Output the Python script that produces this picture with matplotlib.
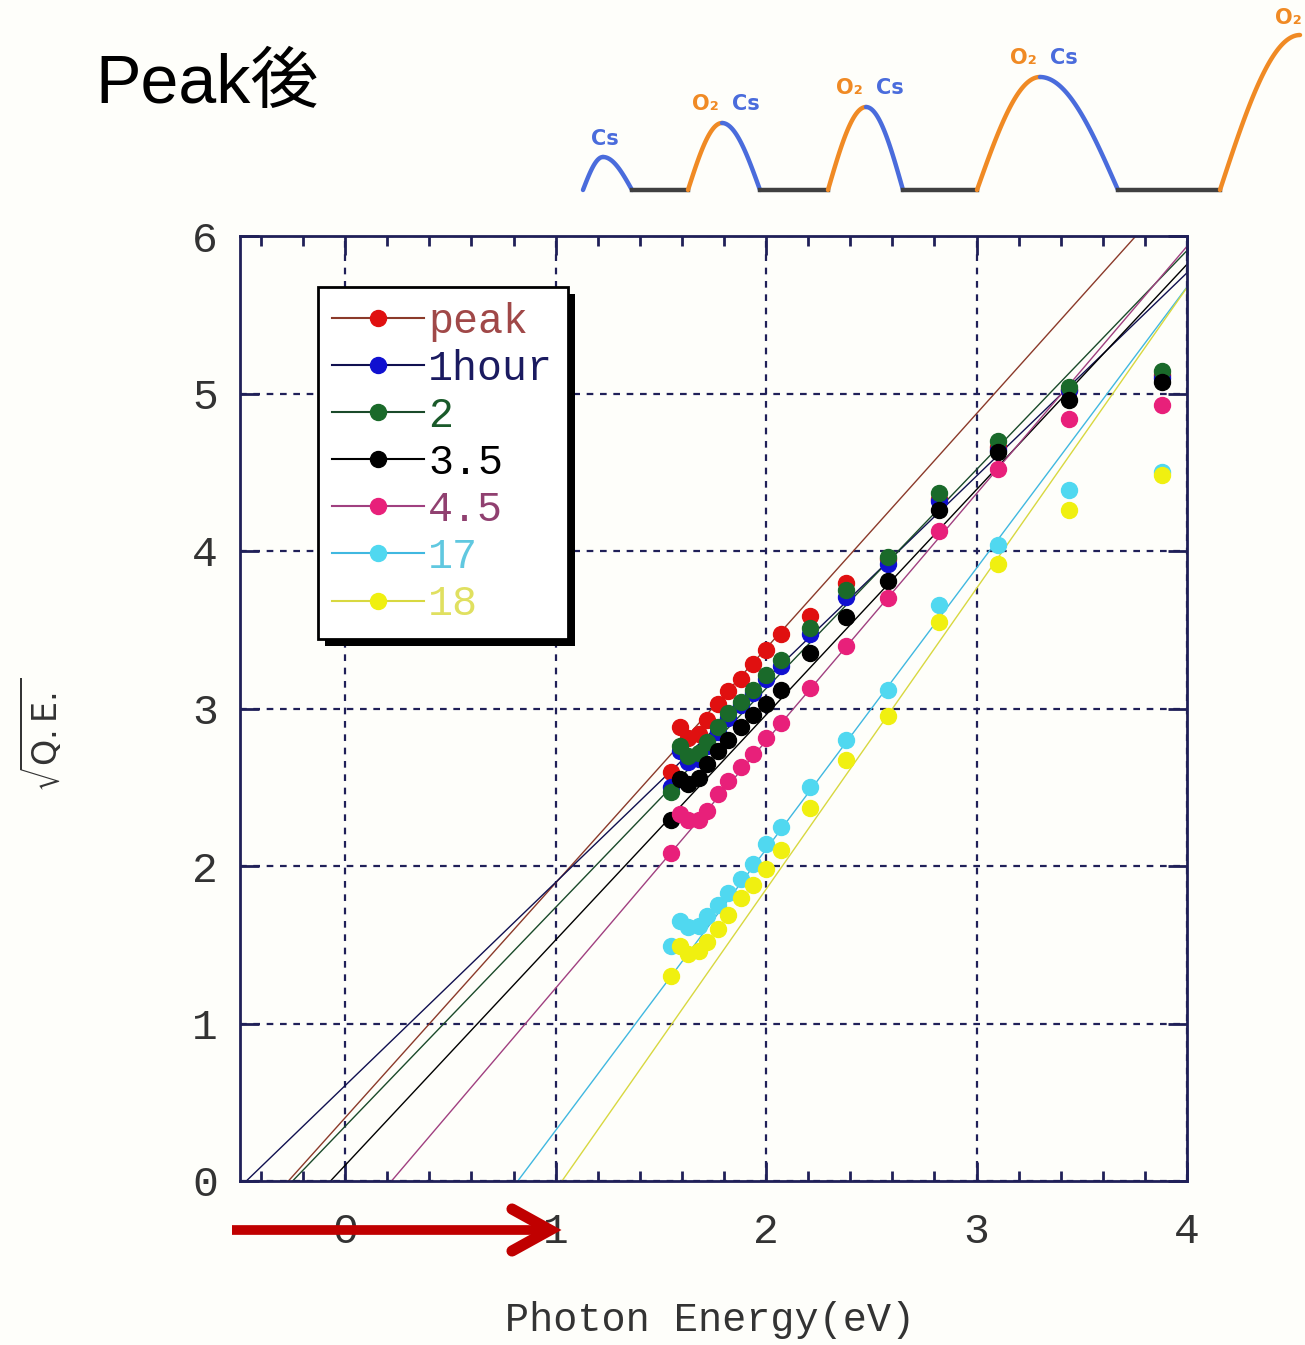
import numpy as np
import matplotlib
matplotlib.use("Agg")
import matplotlib.pyplot as plt
from matplotlib.lines import Line2D
from matplotlib.patches import Rectangle
from matplotlib.transforms import IdentityTransform

# photon energies of the measured points (eV)
energy = [1.55, 1.59, 1.63, 1.68, 1.72, 1.77, 1.82, 1.88, 1.94, 2.00, 2.07,
          2.21, 2.38, 2.58, 2.82, 3.10, 3.44, 3.88]

# sqrt(Q.E.) for each series
qe_peak = [2.60, 2.88, 2.81, 2.84, 2.93, 3.03, 3.11, 3.19, 3.28, 3.37, 3.47,
           3.59, 3.80, 3.95, 4.33, 4.66, 5.02, 5.12]
qe_1h = [2.50, 2.73, 2.66, 2.68, 2.76, 2.85, 2.94, 3.02, 3.10, 3.19, 3.27,
         3.47, 3.71, 3.92, 4.32, 4.64, 5.02, 5.10]
qe_2 = [2.47, 2.76, 2.70, 2.72, 2.79, 2.88, 2.97, 3.04, 3.12, 3.21, 3.31,
        3.51, 3.75, 3.96, 4.37, 4.70, 5.04, 5.14]
qe_35 = [2.29, 2.55, 2.52, 2.56, 2.65, 2.73, 2.80, 2.88, 2.96, 3.03, 3.12,
         3.35, 3.58, 3.81, 4.26, 4.63, 4.96, 5.07]
qe_45 = [2.08, 2.33, 2.29, 2.29, 2.35, 2.46, 2.54, 2.63, 2.71, 2.81, 2.91,
         3.13, 3.40, 3.70, 4.13, 4.52, 4.84, 4.93]
qe_17 = [1.49, 1.65, 1.61, 1.62, 1.68, 1.75, 1.83, 1.92, 2.01, 2.14, 2.25,
         2.50, 2.80, 3.12, 3.66, 4.04, 4.39, 4.50]
qe_18 = [1.30, 1.49, 1.44, 1.46, 1.52, 1.60, 1.69, 1.80, 1.88, 1.98, 2.10,
         2.37, 2.67, 2.95, 3.55, 3.92, 4.26, 4.48]

labels = ["peak", "1hour", "2", "3.5", "4.5", "17", "18"]
series = [qe_peak, qe_1h, qe_2, qe_35, qe_45, qe_17, qe_18]

# linear fits: x-intercept (threshold) and slope
fit_x0 = [-0.27, -0.47, -0.25, -0.07, 0.22, 0.82, 1.03]
fit_slope = [1.49, 1.29, 1.39, 1.43, 1.57, 1.785, 1.91]

marker_colors = ["#e01010", "#1010d0", "#1a6a2a", "#000000", "#e8207a", "#50d8f0", "#f0f010"]
line_colors = ["#8b3a2a", "#101050", "#1a4a2a", "#000000", "#a04080", "#40b8e0", "#d8d840"]
text_colors = ["#a04848", "#1a1a60", "#1a5a2a", "#000000", "#904070", "#60c8e0", "#e0e060"]

# schematic above the chart (pixel units)
bump_start = [583, 688, 828, 977, 1220]
bump_peak_x = [603, 722, 866, 1040, 1300]
bump_peak_y = [157, 123, 107, 77, 35]
bump_end = [632, 760, 903, 1118, None]
rise_is_o2 = [False, True, True, True, True]

navy = "#202058"
orange = "#f08a24"
blue = "#4a6cdc"
bg = "#fefefa"

fig = plt.figure(figsize=(13.05, 13.45), dpi=100, facecolor=bg)
ax = fig.add_axes([240 / 1305, 1 - 1181 / 1345, 947 / 1305, 945 / 1345])
ax.set_facecolor(bg)

xs = np.linspace(-0.5, 4.0, 200)
for i in range(len(series)):
    ax.plot(xs, fit_slope[i] * (xs - fit_x0[i]), color=line_colors[i], lw=1.0, zorder=2)
for i in range(len(series)):
    ax.plot(energy, series[i], "o", ms=11.5, color=marker_colors[i], mec=marker_colors[i], zorder=3)

ax.set_xlim(-0.5, 4)
ax.set_ylim(0, 6)
ax.set_xticks([0, 1, 2, 3, 4])
ax.set_xticks(np.arange(-0.4, 4.0, 0.2), minor=True)
ax.set_yticks([0, 1, 2, 3, 4, 5, 6])
ax.grid(True, which="major", color=navy, ls=(0, (3, 3)), lw=1.6)
for s in ax.spines.values():
    s.set_color(navy)
    s.set_linewidth(2)
ax.tick_params(which="both", direction="in", top=True, right=True, color=navy, width=2)
ax.tick_params(which="major", length=14, labelsize=31, labelcolor="#333333", pad=16)
ax.tick_params(axis="x", which="major", pad=22)
ax.tick_params(which="minor", length=7)
for lab in ax.get_xticklabels() + ax.get_yticklabels():
    lab.set_family("Liberation Mono")

handles = [Line2D([0], [0], color=line_colors[i], lw=1.5, marker="o", ms=11.5,
                  mfc=marker_colors[i], mec=marker_colors[i]) for i in range(len(labels))]
leg = ax.legend(handles, labels, loc="upper left", bbox_to_anchor=(0.082, 0.946),
                borderaxespad=0, prop={"family": "Liberation Mono", "size": 30},
                handlelength=2.2, handletextpad=0.1, labelspacing=0.17,
                borderpad=0.35, fancybox=False, framealpha=1, shadow=False)
leg.get_frame().set_edgecolor("black")
leg.get_frame().set_linewidth(2)
leg.set_zorder(6)
for t, c in zip(leg.get_texts(), text_colors):
    t.set_color(c)

# heavy black drop shadow behind the legend box
fig.canvas.draw()
bb = leg.get_window_extent()
shadow = Rectangle((bb.x0 + 7, bb.y0 - 7), bb.width, bb.height, transform=IdentityTransform(),
                   facecolor="black", edgecolor="none", zorder=5.5, clip_on=False)
ax.add_artist(shadow)

fig.text(710 / 1305, 1 - 1320 / 1345, "Photon Energy(eV)", ha="center", va="center",
         family="Liberation Mono", fontsize=29, color="#333333")
fig.text(42 / 1305, 1 - 735 / 1345, r"$\sqrt{\mathrm{Q.E.}}$", ha="center", va="center",
         rotation=90, fontsize=24, color="#333333")
fig.text(95 / 1305, 1 - 85 / 1345, "Peak後", ha="left", va="center",
         family=["Liberation Sans", "Noto Sans CJK JP"], fontsize=49, color="black")

# overlay for schematic and arrow
ov = fig.add_axes([0, 0, 1, 1])
ov.set_xlim(0, 1305)
ov.set_ylim(1345, 0)
ov.axis("off")
ov.patch.set_visible(False)

base = 190
for i in range(len(bump_start)):
    h = base - bump_peak_y[i]
    t = np.linspace(0, 1, 60)
    rx = bump_start[i] + (bump_peak_x[i] - bump_start[i]) * t
    ry = base - h * np.sin(np.pi / 2 * t)
    ov.plot(rx, ry, color=orange if rise_is_o2[i] else blue, lw=3.2, solid_capstyle="round")
    if bump_end[i] is not None:
        fx = bump_peak_x[i] + (bump_end[i] - bump_peak_x[i]) * t
        fy = bump_peak_y[i] + h * (1 - np.cos(np.pi / 2 * t))
        ov.plot(fx, fy, color=blue, lw=3.2, solid_capstyle="round")
        if i + 1 < len(bump_start):
            ov.plot([bump_end[i], bump_start[i + 1]], [base, base], color="#404040", lw=3.2)
    if rise_is_o2[i]:
        if bump_end[i] is None:
            ov.text(bump_peak_x[i] - 12, bump_peak_y[i] - 17, "O₂", color=orange,
                    fontsize=15, fontweight="bold", ha="center", va="center")
        else:
            ov.text(bump_peak_x[i] - 17, bump_peak_y[i] - 19, "O₂", color=orange,
                    fontsize=15, fontweight="bold", ha="center", va="center")
            ov.text(bump_peak_x[i] + 24, bump_peak_y[i] - 19, "Cs", color=blue,
                    fontsize=15, fontweight="bold", ha="center", va="center")
    else:
        ov.text(bump_peak_x[i] + 2, bump_peak_y[i] - 18, "Cs", color=blue,
                fontsize=15, fontweight="bold", ha="center", va="center")

# red arrow below the axis
ov.plot([232, 550], [1230, 1230], color="#c00000", lw=7, solid_capstyle="butt")
ov.plot([512, 550, 512], [1209, 1230, 1251], color="#c00000", lw=8,
        solid_capstyle="round", solid_joinstyle="miter")

fig.savefig("out.png", dpi=100, facecolor=bg)
